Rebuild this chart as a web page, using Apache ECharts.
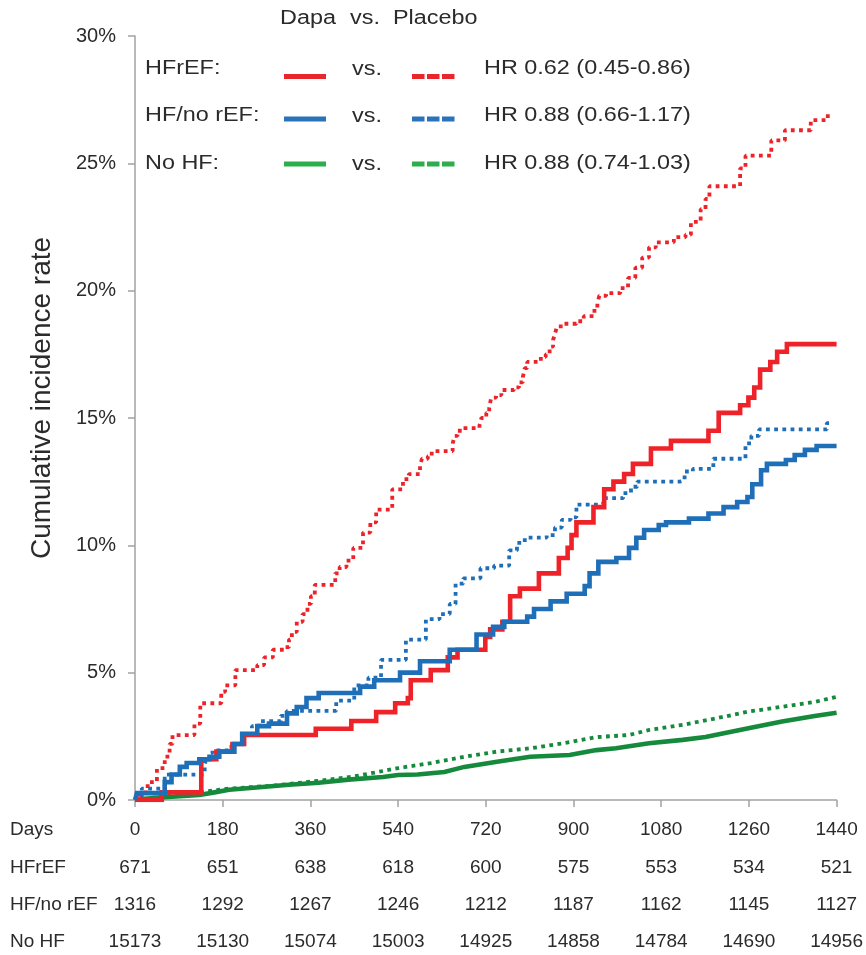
<!DOCTYPE html>
<html>
<head>
<meta charset="utf-8">
<script src="https://cdn.jsdelivr.net/npm/echarts@6/dist/echarts.min.js"></script>
<style>
  html, body { margin: 0; padding: 0; background: #ffffff; }
  #chart { width: 866px; height: 955px; }
</style>
</head>
<body>
<div id="chart"></div>
<script>
// Follow-up days shown on the x axis and in the numbers-at-risk table
const dayTicks = [0, 180, 360, 540, 720, 900, 1080, 1260, 1440];
const atRiskHFrEF = [671, 651, 638, 618, 600, 575, 553, 534, 521];
const atRiskHFnoREF = [1316, 1292, 1267, 1246, 1212, 1187, 1162, 1145, 1127];
const atRiskNoHF = [15173, 15130, 15074, 15003, 14925, 14858, 14784, 14690, 14956];
const tableRows = ['Days', 'HFrEF', 'HF/no rEF', 'No HF'];

// Legend texts
const groupLabels = ['HFrEF:', 'HF/no rEF:', 'No HF:'];
const hazardRatios = ['HR 0.62 (0.45-0.86)', 'HR 0.88 (0.66-1.17)', 'HR 0.88 (0.74-1.03)'];

// Cumulative incidence (%), [day, level from that day on]
const dapaHFrEF = [[0,0],[55,0.3],[136,1.6],[167,1.9],[200,2.2],[224,2.55],[371,2.8],[444,3.1],[495,3.45],[534,3.8],[560,4.0],[566,4.7],[607,5.1],[642,5.6],[662,5.9],[719,6.4],[729,6.7],[754,7.0],[770,8.0],[790,8.3],[829,8.9],[870,9.5],[888,9.9],[896,10.4],[906,10.9],[941,11.5],[963,12.2],[982,12.5],[1004,12.8],[1022,13.2],[1059,13.8],[1100,14.1],[1177,14.5],[1198,15.2],[1242,15.5],[1259,15.8],[1271,16.2],[1283,16.9],[1304,17.2],[1318,17.6],[1338,17.9],[1440,17.9]];
const placeboHFrEF = [[0,0],[10,0.3],[26,0.7],[45,1.25],[61,1.7],[71,2.2],[77,2.55],[122,3.0],[134,3.8],[177,4.25],[185,4.5],[206,5.1],[251,5.3],[265,5.6],[283,5.9],[306,6.0],[316,6.3],[322,6.6],[332,7.0],[344,7.3],[354,7.7],[361,8.0],[369,8.45],[411,8.9],[420,9.15],[434,9.4],[448,9.9],[468,10.5],[483,10.9],[495,11.4],[528,12.2],[550,12.6],[562,12.8],[585,13.15],[589,13.4],[601,13.5],[609,13.7],[652,14.0],[656,14.3],[662,14.5],[674,14.6],[707,14.7],[711,15.0],[721,15.2],[727,15.4],[731,15.8],[741,15.9],[752,16.1],[778,16.2],[788,16.4],[796,16.6],[800,16.96],[805,17.2],[833,17.4],[843,17.5],[851,17.8],[858,18.06],[862,18.3],[866,18.6],[878,18.7],[906,18.8],[921,19.0],[943,19.3],[949,19.5],[953,19.8],[967,19.9],[996,20.1],[1012,20.5],[1027,20.9],[1041,21.3],[1055,21.7],[1069,21.9],[1106,22.1],[1130,22.2],[1141,22.7],[1161,23.2],[1171,23.6],[1179,24.1],[1242,24.8],[1253,25.3],[1306,25.9],[1334,26.3],[1387,26.7],[1422,27.0],[1426,27.0]];
const dapaHFnoREF = [[0,0],[4,0.27],[61,0.7],[75,1.0],[92,1.3],[106,1.45],[132,1.6],[153,1.7],[173,1.9],[204,2.2],[220,2.6],[251,2.9],[275,3.0],[312,3.4],[332,3.65],[352,4.0],[377,4.2],[462,4.45],[491,4.7],[544,5.0],[585,5.45],[646,5.9],[701,6.5],[735,6.8],[758,7.0],[805,7.2],[819,7.5],[853,7.8],[886,8.1],[923,8.4],[933,8.9],[951,9.35],[988,9.5],[1014,9.9],[1029,10.3],[1045,10.6],[1075,10.8],[1090,10.9],[1137,11.05],[1177,11.25],[1208,11.5],[1236,11.7],[1257,11.9],[1267,12.4],[1285,12.95],[1297,13.2],[1336,13.35],[1354,13.55],[1375,13.75],[1399,13.9],[1440,13.9]];
const placeboHFnoREF = [[0,0],[14,0.45],[61,1.0],[143,1.5],[153,1.85],[159,1.95],[198,2.2],[224,2.6],[240,2.9],[255,3.1],[299,3.3],[312,3.5],[413,3.9],[450,4.5],[479,4.8],[505,5.5],[556,6.3],[597,7.1],[625,7.3],[646,7.7],[658,8.5],[674,8.7],[709,9.1],[737,9.2],[768,9.8],[784,10.1],[800,10.3],[845,10.4],[862,10.7],[876,11.0],[894,11.1],[906,11.6],[961,11.85],[1002,12.05],[1018,12.3],[1031,12.5],[1118,12.55],[1128,12.9],[1145,13.0],[1187,13.4],[1253,14.0],[1265,14.3],[1281,14.55],[1420,14.8],[1426,14.8]];
const dapaNoHF = [[0,0],[20,0.05],[51,0.1],[92,0.15],[132,0.2],[163,0.3],[193,0.4],[255,0.5],[316,0.6],[377,0.68],[438,0.8],[509,0.9],[540,0.98],[580,1.0],[635,1.1],[676,1.3],[743,1.5],[811,1.7],[892,1.77],[947,1.96],[987,2.03],[1055,2.23],[1124,2.36],[1171,2.47],[1191,2.55],[1259,2.82],[1328,3.08],[1395,3.3],[1440,3.43]];
const placeboNoHF = [[0,0],[51,0.12],[132,0.3],[193,0.45],[275,0.55],[361,0.72],[448,0.92],[540,1.25],[607,1.45],[676,1.7],[743,1.9],[811,2.03],[880,2.23],[947,2.47],[1014,2.55],[1055,2.75],[1124,2.95],[1191,3.2],[1259,3.47],[1328,3.66],[1395,3.85],[1440,4.05]];

const FONT = "'Liberation Sans', Arial, Helvetica, sans-serif";
const TEXT = '#2b2b2b';
const AXIS = '#a2a2a2';
const RED = '#ee2329';
const BLUE = '#1f6fb8';
const GREEN = '#168a3c';
const legendColors = ['#e8262b', '#2a72b9', '#2cae4c'];

const chart = echarts.init(document.getElementById('chart'), null, { renderer: 'canvas' });

const rowOffsets = [0, 38, 75, 112];
const rowValues = [dayTicks, atRiskHFrEF, atRiskHFnoREF, atRiskNoHF];

const xAxes = rowOffsets.map((off, r) => ({
  type: 'value',
  gridIndex: 0,
  position: 'bottom',
  offset: off,
  min: 0,
  max: 1440,
  interval: 180,
  axisLine: { show: r === 0, lineStyle: { color: AXIS, width: 1.5 } },
  axisTick: { show: r === 0, length: 7, inside: false, lineStyle: { color: AXIS, width: 1.5 } },
  splitLine: { show: false },
  axisLabel: {
    show: true,
    margin: 20,
    showMinLabel: true,
    showMaxLabel: true,
    color: TEXT,
    fontFamily: FONT,
    fontSize: 19,
    formatter: v => String(rowValues[r][Math.round(v / 180)])
  }
}));

function stepLine(name, data, color, dotted, step) {
  return {
    name, type: 'line', data, step: step ? 'end' : false,
    xAxisIndex: 0, yAxisIndex: 0,
    symbol: 'none', silent: true, animation: false,
    lineStyle: dotted
      ? { color, width: 3.8, type: [3.8, 4.4], cap: 'butt' }
      : { color, width: 4.6, type: 'solid', join: 'miter' }
  };
}

const graphics = [];
// numbers-at-risk row titles
tableRows.forEach((t, i) => {
  graphics.push({
    type: 'text', x: 10, y: 830 + rowOffsets[i], silent: true,
    style: { text: t, fill: TEXT, fontSize: 19, fontFamily: FONT,
             align: 'left', verticalAlign: 'middle', textAlign: 'left', textVerticalAlign: 'middle' }
  });
});
// y axis title
graphics.push({
  type: 'text', x: 42, y: 398, rotation: Math.PI / 2, silent: true,
  style: { text: 'Cumulative incidence rate', fill: TEXT, fontSize: 28, fontFamily: FONT,
           align: 'center', verticalAlign: 'middle', textAlign: 'center', textVerticalAlign: 'middle' }
});
// legend block
function legendText(text, x, y) {
  return {
    type: 'text', x, y, scaleX: 1.17, silent: true,
    style: { text, fill: TEXT, fontSize: 20, fontFamily: FONT,
             align: 'left', verticalAlign: 'middle', textAlign: 'left', textVerticalAlign: 'middle' }
  };
}
graphics.push(legendText('Dapa', 280, 18));
graphics.push(legendText('vs.', 350, 18));
graphics.push(legendText('Placebo', 393, 18));
const legendRowY = [68, 115.5, 163];
const legendLineY = [76.5, 119, 164];
groupLabels.forEach((g, i) => {
  graphics.push(legendText(g, 145, legendRowY[i]));
  graphics.push(legendText('vs.', 352, legendRowY[i] + 1));
  graphics.push(legendText(hazardRatios[i], 484, legendRowY[i]));
  graphics.push({
    type: 'line', silent: true,
    shape: { x1: 284, y1: legendLineY[i], x2: 326, y2: legendLineY[i] },
    style: { stroke: legendColors[i], lineWidth: 5 }
  });
  graphics.push({
    type: 'line', silent: true,
    shape: { x1: 412, y1: legendLineY[i], x2: 454.5, y2: legendLineY[i] },
    style: { stroke: legendColors[i], lineWidth: 5, lineDash: [12.5, 2.5] }
  });
});

chart.setOption({
  animation: false,
  backgroundColor: '#ffffff',
  grid: { left: 135, right: 24, top: 36, bottom: 155, containLabel: false },
  xAxis: xAxes,
  yAxis: {
    type: 'value',
    min: 0, max: 30, interval: 5,
    axisLine: { show: true, lineStyle: { color: AXIS, width: 1.5 } },
    axisTick: { show: true, length: 7, inside: false, lineStyle: { color: AXIS, width: 1.5 } },
    splitLine: { show: false },
    axisLabel: { color: TEXT, fontFamily: FONT, fontSize: 20, margin: 19, formatter: '{value}%' }
  },
  series: [
    stepLine('No HF Placebo', placeboNoHF, GREEN, true, false),
    stepLine('No HF Dapa', dapaNoHF, GREEN, false, false),
    stepLine('HF/no rEF Placebo', placeboHFnoREF, BLUE, true, true),
    stepLine('HFrEF Placebo', placeboHFrEF, RED, true, true),
    stepLine('HFrEF Dapa', dapaHFrEF, RED, false, true),
    stepLine('HF/no rEF Dapa', dapaHFnoREF, BLUE, false, true)
  ],
  graphic: graphics
});
</script>
</body>
</html>
